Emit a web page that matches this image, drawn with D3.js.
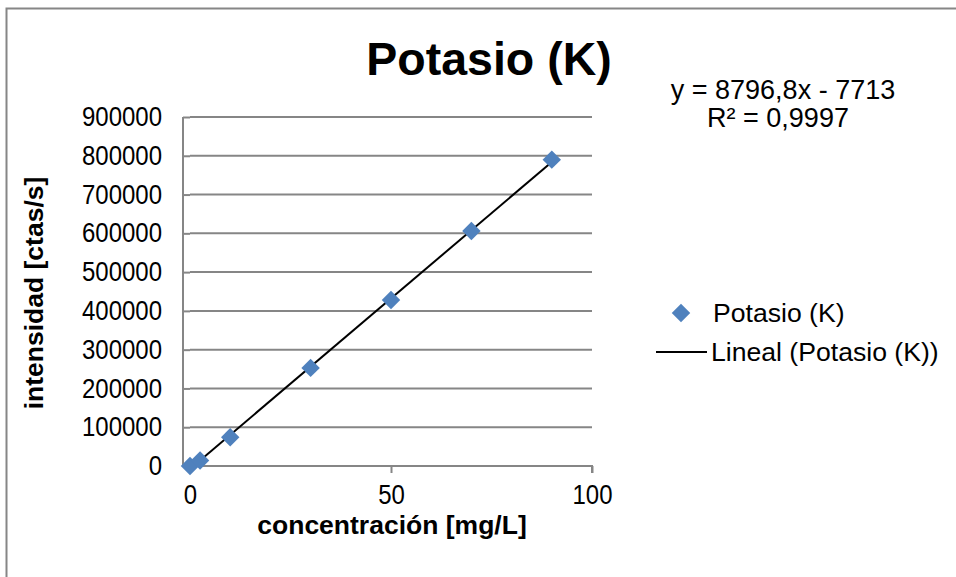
<!DOCTYPE html>
<html>
<head>
<meta charset="utf-8">
<script src="https://cdn.jsdelivr.net/npm/d3@7"></script>
<style>
  body { margin: 0; background: #fff; }
  text { font-family: "Liberation Sans", Arial, sans-serif; fill: #000; }
</style>
</head>
<body>
<div id="chart"></div>
<script>
// data
const conc = [0, 2.5, 10, 30, 50, 70, 90]
const intensity = [0, 14000, 74000, 253000, 428000, 606000, 790000]
const xTicks = [0, 50, 100]
const yTicks = [0, 100000, 200000, 300000, 400000, 500000, 600000, 700000, 800000, 900000]
const slope = 8796.8
const intercept = -7713
const eqLabel = 'y = 8796,8x - 7713'
const r2Label = 'R² = 0,9997'

const W = 956
const H = 577
const grey = '#868686'

const svg = d3.select('#chart').append('svg').attr('width', W).attr('height', H)

// chart area border
svg.append('rect')
  .attr('x', 6.5).attr('y', 8.5)
  .attr('width', 980).attr('height', 600)
  .attr('fill', 'none').attr('stroke', grey).attr('stroke-width', 2)

const x = d3.scaleLinear([0, 100], [190, 592])
const y = d3.scaleLinear([0, 900000], [466, 117])

// gridlines
svg.append('g')
  .selectAll('line')
  .data(yTicks.slice(1))
  .enter()
  .append('line')
  .attr('x1', x(0)).attr('x2', x(100))
  .attr('y1', (d) => y(d)).attr('y2', (d) => y(d))
  .attr('stroke', grey).attr('stroke-width', 2)

const yAxis = svg.append('g')
  .attr('transform', `translate(${x(0)},0)`)
  .call(d3.axisLeft(y).tickValues(yTicks).tickSize(7).tickPadding(21).tickFormat(d3.format('d')))
const xAxis = svg.append('g')
  .attr('transform', `translate(0,${y(0)})`)
  .call(d3.axisBottom(x).tickValues(xTicks).tickSize(7).tickPadding(10))

for (const ax of [xAxis, yAxis]) {
  ax.select('.domain').attr('stroke', grey).attr('stroke-width', 2)
  ax.selectAll('.tick line').attr('stroke', grey).attr('stroke-width', 2)
  ax.selectAll('.tick text').style('font-size', '24px').attr('fill', '#000')
    .attr('transform', 'scale(1,1.12)')
}
yAxis.select('.domain').attr('d', `M-7,${y(0)}V${y(900000)}`)
xAxis.select('.domain').attr('d', `M${x(0)},7V0H${x(100)}V7`)

// trend line
const xs = d3.extent(conc)
svg.append('line')
  .attr('x1', x(xs[0])).attr('y1', y(slope * xs[0] + intercept))
  .attr('x2', x(xs[1])).attr('y2', y(slope * xs[1] + intercept))
  .attr('stroke', '#000').attr('stroke-width', 2)

// points
const diamond = d3.symbol().type(d3.symbolSquare).size(170)
svg.append('g')
  .selectAll('path')
  .data(conc)
  .enter()
  .append('path')
  .attr('d', diamond)
  .attr('transform', (d, i) => `translate(${x(d)},${y(intensity[i])}) rotate(45)`)
  .attr('fill', '#4f81bd')

// title and labels
svg.append('text').attr('x', 489).attr('y', 75).attr('text-anchor', 'middle')
  .style('font-size', '46.5px').style('font-weight', 'bold').text('Potasio (K)')
svg.append('text').attr('x', 783).attr('y', 99).attr('text-anchor', 'middle')
  .style('font-size', '27px').text(eqLabel)
svg.append('text').attr('x', 778).attr('y', 127).attr('text-anchor', 'middle')
  .style('font-size', '27px').text(r2Label)
svg.append('text').attr('x', 392).attr('y', 534).attr('text-anchor', 'middle')
  .style('font-size', '26.5px').style('font-weight', 'bold').text('concentración [mg/L]')
svg.append('text').attr('transform', 'translate(43,293) rotate(-90)').attr('text-anchor', 'middle')
  .style('font-size', '26.5px').style('font-weight', 'bold').text('intensidad [ctas/s]')

// legend
svg.append('path').attr('d', diamond)
  .attr('transform', 'translate(681,313) rotate(45)').attr('fill', '#4f81bd')
svg.append('text').attr('x', 713).attr('y', 322).style('font-size', '26.6px').text('Potasio (K)')
svg.append('line').attr('x1', 656).attr('x2', 707).attr('y1', 352).attr('y2', 352)
  .attr('stroke', '#000').attr('stroke-width', 2)
svg.append('text').attr('x', 711).attr('y', 361).style('font-size', '26.6px').text('Lineal (Potasio (K))')
</script>
</body>
</html>
